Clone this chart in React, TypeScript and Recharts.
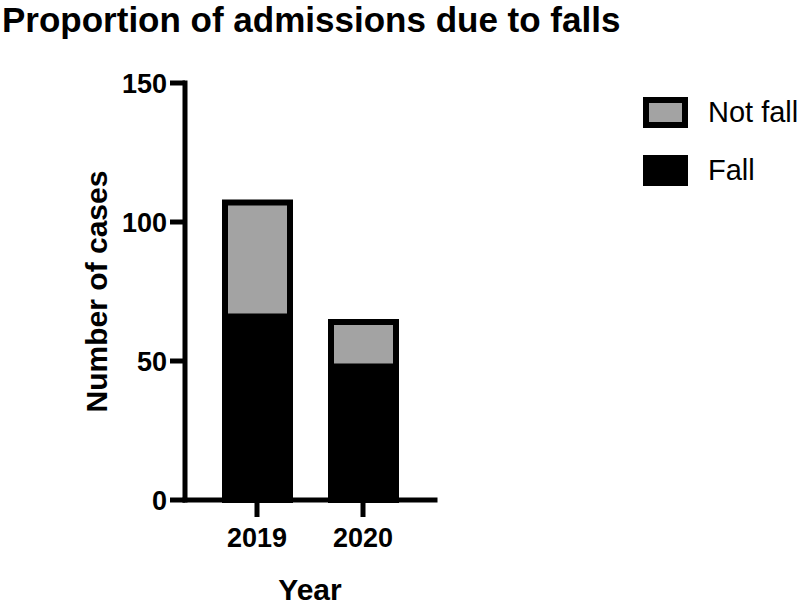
import React from 'react';
import { BarChart, Bar, XAxis, YAxis } from 'recharts';

const YEARS = ['2019', '2020'];
const FALL = [66, 48];
const NOT_FALL = [41, 16];
const Y_TICKS = [0, 50, 100, 150];

const GREY = '#a3a3a3';
const FONT = '"Liberation Sans", Arial, sans-serif';

const data = YEARS.map((year, i) => ({ year, fall: FALL[i], notFall: NOT_FALL[i] }));

const LEGEND = [
  { name: 'Not fall', fill: GREY },
  { name: 'Fall', fill: '#000' },
];

export default function App() {
  return (
    <div style={{ position: 'absolute', left: 0, top: 0, width: 800, height: 607, background: '#fff', fontFamily: FONT, overflow: 'hidden' }}>
      <div style={{ position: 'absolute', left: 2, top: 1, fontSize: 35, lineHeight: '37px', fontWeight: 'bold', whiteSpace: 'nowrap', color: '#000' }}>
        Proportion of admissions due to falls
      </div>

      <BarChart width={800} height={607} data={data} margin={{ top: 83, right: 365, bottom: 2, left: 85 }}>
        <XAxis
          dataKey="year"
          height={105}
          padding={{ left: 19, right: 19 }}
          tickSize={17}
          tickMargin={11}
          axisLine={{ stroke: '#000', strokeWidth: 5, strokeLinecap: 'square' }}
          tickLine={{ stroke: '#000', strokeWidth: 5 }}
          tick={{ fill: '#000', fontSize: 27, fontWeight: 'bold', fontFamily: FONT }}
          label={{ value: 'Year', position: 'insideBottom', offset: 5, fill: '#000', fontSize: 30, fontWeight: 'bold', fontFamily: FONT }}
        />
        <YAxis
          width={100}
          domain={[0, 150]}
          ticks={Y_TICKS}
          tickSize={15}
          tickMargin={3}
          axisLine={{ stroke: '#000', strokeWidth: 5, strokeLinecap: 'square' }}
          tickLine={{ stroke: '#000', strokeWidth: 5 }}
          tick={{ fill: '#000', fontSize: 27, fontWeight: 'bold', fontFamily: FONT }}
          label={{
            value: 'Number of cases',
            angle: -90,
            position: 'insideLeft',
            offset: 11,
            fill: '#000',
            fontSize: 30,
            fontWeight: 'bold',
            fontFamily: FONT,
            style: { textAnchor: 'middle' },
          }}
        />
        <Bar dataKey="fall" stackId="a" barSize={65} fill="#000" stroke="#000" strokeWidth={6} isAnimationActive={false} />
        <Bar dataKey="notFall" stackId="a" barSize={65} fill={GREY} stroke="#000" strokeWidth={6} isAnimationActive={false} />
      </BarChart>

      <div style={{ position: 'absolute', left: 643, top: 97 }}>
        {LEGEND.map((item, i) => (
          <div key={item.name} style={{ display: 'flex', alignItems: 'center', marginTop: i === 0 ? 0 : 27 }}>
            <div style={{ width: 45, height: 31, boxSizing: 'border-box', border: '6px solid #000', background: item.fill }} />
            <span style={{ marginLeft: 20, fontSize: 29, lineHeight: '31px', color: '#000', whiteSpace: 'nowrap' }}>{item.name}</span>
          </div>
        ))}
      </div>
    </div>
  );
}
